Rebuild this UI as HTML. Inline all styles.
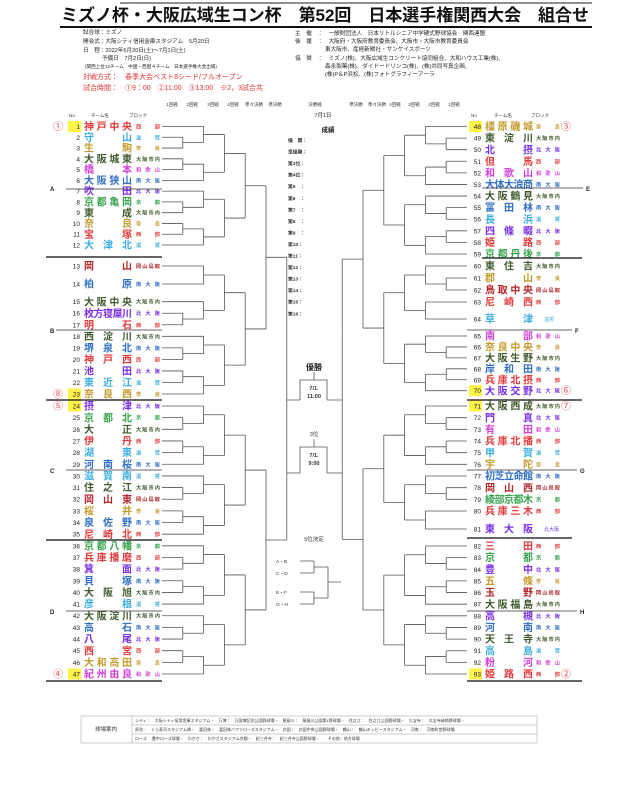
<!DOCTYPE html>
<html><head><meta charset="utf-8">
<style>
html,body{margin:0;padding:0;background:#fff;}
body{width:640px;height:788px;overflow:hidden;font-family:"Liberation Sans","Noto Sans CJK JP",sans-serif;}
svg text{font-family:"Liberation Sans","Noto Sans CJK JP",sans-serif;}
</style></head>
<body>
<svg id="s" width="640" height="788" viewBox="0 0 640 788" xmlns="http://www.w3.org/2000/svg">
<line x1="120" y1="3" x2="592" y2="3" stroke="#222" stroke-width="1"/>
<text x="325" y="21" font-size="17" font-weight="bold" text-anchor="middle" textLength="528" lengthAdjust="spacing" fill="#111">ミズノ杯・大阪広域生コン杯　第52回　日本選手権関西大会　組合せ</text>
<line x1="60" y1="27" x2="592" y2="27" stroke="#111" stroke-width="2"/>
<g font-size="5.6" fill="#222">
<text x="83" y="34">試合球：ミズノ</text>
<text x="83" y="43">開会式：大阪シティ信用金庫スタジアム　5月20日</text>
<text x="83" y="52">日　程：2022年5月20日(土)～7月1日(土)</text>
<text x="102" y="60">予備日　7月2日(日)</text>
<text x="85" y="68" font-size="4.6">(関西上位12チーム　中国・西国４チーム　日本選手権大会出場)</text>
<text x="83" y="79" font-size="7" fill="#e03030">対戦方式：　春季大会ベスト8シード/フルオープン</text>
<text x="83" y="90" font-size="7" fill="#e03030">試合時間：　①9：00　②11:00　③13:00　※2，3試合共</text>
<text x="295" y="35">主　催　：　一般財団法人　日本リトルシニア中学硬式野球協会　関西連盟</text>
<text x="295" y="43">後　援　：　大阪府・大阪府教育委員会、大阪市・大阪市教育委員会</text>
<text x="325" y="51">東大阪市、産経新聞社・サンケイスポーツ</text>
<text x="295" y="60">協　賛　：　ミズノ(株)、大阪広域生コンクリート協同組合、大和ハウス工業(株)、</text>
<text x="325" y="68">森永製菓(株)、ダイドードリンコ(株)、(株)共同写真企画、</text>
<text x="325" y="76">(株)P＆P浜松、(株)フォトグラフィーアーラ</text>
</g>
<g font-size="4.5" fill="#333" text-anchor="middle">
<text x="172" y="106">1回戦</text><text x="192" y="106">2回戦</text><text x="213" y="106">3回戦</text><text x="233" y="106">4回戦</text><text x="254" y="106">準々決勝</text><text x="275" y="106">準決勝</text>
<text x="315" y="106">決勝戦</text>
<text x="356" y="106">準決勝</text><text x="377" y="106">準々決勝</text><text x="395" y="106">4回戦</text><text x="414" y="106">3回戦</text><text x="434" y="106">2回戦</text><text x="454" y="106">1回戦</text>
<text x="72" y="117">No</text><text x="100" y="117">チーム名</text><text x="138" y="117">ブロック</text>
<text x="474" y="117">No</text><text x="503" y="117">チーム名</text><text x="540" y="117">ブロック</text>
</g>
<text x="323" y="117" font-size="5.5" text-anchor="middle" fill="#222">7月1日</text>
<text x="328" y="132" font-size="6.5" font-weight="bold" text-anchor="middle" fill="#222">成績</text>
<g id="g"></g>
<!-- center -->
<g stroke="#555" stroke-width="0.8" fill="none">
<path d="M314 372 V380 M300 400 V380 H327 V400"/>
<path d="M314 439 V447 M300 473 V447 H327 V473"/>
<path d="M300 561 H314 M300 573 H314 M314 561 V573 M314 567 H328 M300 592 H314 M300 604 H314 M314 592 V604 M314 598 H328 M328 567 V598 M328 582 H341"/>
</g>
<text x="314" y="370" font-size="8" font-weight="bold" text-anchor="middle" fill="#222">優勝</text>
<text x="314" y="390" font-size="5.5" font-weight="bold" text-anchor="middle" fill="#333">7/1.</text>
<text x="314" y="398" font-size="5.5" font-weight="bold" text-anchor="middle" fill="#333">11:00</text>
<text x="314" y="436" font-size="5.5" text-anchor="middle" fill="#333">3位</text>
<text x="314" y="457" font-size="5.5" font-weight="bold" text-anchor="middle" fill="#333">7/1.</text>
<text x="314" y="465" font-size="5.5" font-weight="bold" text-anchor="middle" fill="#333">9:00</text>
<text x="314" y="541" font-size="5.5" text-anchor="middle" fill="#333">5位決定</text>
<g font-size="4.8" fill="#333">
<text x="276" y="563">A・B</text><text x="276" y="575">C・D</text><text x="276" y="594">E・F</text><text x="276" y="606">G・H</text>
</g>
<!-- footer -->
<g stroke="#999" stroke-width="0.5" fill="none">
<rect x="81" y="716" width="456" height="27"/>
<line x1="132" y1="716" x2="132" y2="743"/>
<line x1="132" y1="725" x2="537" y2="725"/>
<line x1="132" y1="734" x2="537" y2="734"/>
</g>
<text x="106" y="731" font-size="5.5" text-anchor="middle" fill="#333">球場案内</text>
<g font-size="4" fill="#333">
<text x="135" y="722">シティ：　大阪シティ信用金庫スタジアム・　万博：　万国博記念公園野球場・　猿島川：　猿島川公園第1野球場・　住之江：　住之江公園野球場・　久宝寺：　久宝寺緑地野球場・</text>
<text x="135" y="731">原池：　くら寿司スタジアム堺・　富田林：　富田林バファローズスタジアム・　花園：　花園中央公園野球場・　鶴山：　鶴山キッピースタジアム・　河南：　河南町営野球場</text>
<text x="135" y="740">ローズ　:豊中ローズ球場・　わかさ：　わかさスタジアム京都・　紀三井寺：　紀三井寺公園野球場・　　その他：地方球場</text>
</g>
</svg>
<script>
(function(){
var C={"西部":"#e23a3a","滋賀":"#3aaee2","奈良":"#c49a2a","大阪市内":"#3f5a2c","和歌山":"#d23ed6","南大阪":"#2f6fc4","北大阪":"#7a2ee6","京都":"#36a34e","岡山鳥取":"#b3262a"};
var T=[
[1,"神戸中央","西部"],[2,"守山","滋賀"],[3,"生駒","奈良"],[4,"大阪城東","大阪市内"],[5,"橋本","和歌山"],[6,"大阪狭山","南大阪"],
[7,"吹田","北大阪"],[8,"京都亀岡","京都"],[9,"東成","大阪市内"],[10,"奈良","奈良"],[11,"宝塚","西部"],[12,"大津北","滋賀"],
[13,"岡山","岡山鳥取"],[14,"柏原","南大阪"],[15,"大阪中央","大阪市内"],[16,"枚方寝屋川","北大阪"],[17,"明石","西部"],
[18,"西淀川","大阪市内"],[19,"堺泉北","南大阪"],[20,"神戸西","西部"],[21,"池田","北大阪"],[22,"東近江","滋賀"],[23,"奈良西","奈良"],
[24,"摂津","北大阪"],[25,"京都北","京都"],[26,"大正","大阪市内"],[27,"伊丹","西部"],[28,"湖東","滋賀"],[29,"河南桜","南大阪"],
[30,"滋賀南","滋賀"],[31,"住之江","大阪市内"],[32,"岡山東","岡山鳥取"],[33,"桜井","奈良"],[34,"泉佐野","南大阪"],[35,"尼崎北","西部"],
[36,"京都八幡","京都"],[37,"兵庫播磨","西部"],[38,"箕面","北大阪"],[39,"貝塚","南大阪"],[40,"大阪旭","大阪市内"],[41,"彦根","滋賀"],
[42,"大阪淀川","大阪市内"],[43,"高石","南大阪"],[44,"八尾","北大阪"],[45,"西宮","西部"],[46,"大和高田","奈良"],[47,"紀州由良","和歌山"],
[48,"橿原磯城","奈良"],[49,"東淀川","大阪市内"],[50,"北摂","北大阪"],[51,"但馬","西部"],[52,"和歌山","和歌山"],[53,"大体大浪商","南大阪"],
[54,"大阪鶴見","大阪市内"],[55,"富田林","南大阪"],[56,"長浜","滋賀"],[57,"四條畷","北大阪"],[58,"姫路","西部"],[59,"京都丹後","京都"],
[60,"東住吉","大阪市内"],[61,"郡山","奈良"],[62,"鳥取中央","岡山鳥取"],[63,"尼崎西","西部"],[64,"草津","滋賀"],
[65,"南部","和歌山"],[66,"奈良中央","奈良"],[67,"大阪生野","大阪市内"],[68,"岸和田","南大阪"],[69,"兵庫北摂","西部"],[70,"大阪交野","北大阪"],
[71,"大阪西成","大阪市内"],[72,"門真","北大阪"],[73,"有田","和歌山"],[74,"兵庫北播","西部"],[75,"甲賀","滋賀"],[76,"宇陀","奈良"],
[77,"初芝立命館","南大阪"],[78,"岡山西","岡山鳥取"],[79,"綾部京都木","京都"],[80,"兵庫三木","西部"],[81,"東大阪","北大阪"],
[82,"三田","西部"],[83,"京都","京都"],[84,"豊中","北大阪"],[85,"五條","奈良"],[86,"玉野","岡山鳥取"],[87,"大阪福島","大阪市内"],
[88,"高槻","北大阪"],[89,"河南","南大阪"],[90,"天王寺","大阪市内"],[91,"高島","滋賀"],[92,"粉河","和歌山"],[93,"姫路西","西部"]];
var Y={};
function seq(a,b,y0,y1){var n=b-a;for(var i=a;i<=b;i++)Y[i]=y0+(y1-y0)*(i-a)/n;}
seq(1,12,126.5,245);Y[13]=266;Y[14]=284;seq(15,23,301.7,394);seq(24,47,406,674);
seq(48,59,126.5,254);seq(60,63,266,302);Y[64]=319;seq(65,81,336,511);Y[81]=529;
seq(71,80,406,511);seq(82,93,546,674);
var hl={1:1,23:1,24:1,47:1,48:1,70:1,71:1,93:1};
var circ={1:"①",23:"⑧",24:"⑤",47:"④",48:"③",70:"⑥",71:"⑦",93:"②"};
var s="";
T.forEach(function(t){
 var n=t[0],y=Y[n],col=C[t[2]],L=n<=47;
 var nx=L?80:481, tx=L?84:485, px=L?136:536;
 if(hl[n]) s+='<rect x="'+(nx-12)+'" y="'+(y-5.5)+'" width="13" height="11" fill="#fff34a"/>';
 s+='<text x="'+nx+'" y="'+(y+2.5)+'" font-size="6.5" text-anchor="end" fill="#222">'+n+'</text>';
 var nm=t[1];
 s+='<text x="'+tx+'" y="'+(y+3.6)+'" font-size="10" font-weight="bold" fill="'+col+'"'+(nm.length>1?' textLength="48" lengthAdjust="spacing"':'')+'>'+nm+'</text>';
 var pf=t[2],pw=pf.length>=3?24:24;
 if(n==64||n==81) s+='<text x="'+(px+8)+'" y="'+(y+2)+'" font-size="5" fill="'+col+'">'+(n==64?"滋賀":"北大阪")+'</text>';
 else s+='<text x="'+px+'" y="'+(y+2)+'" font-size="5.2" font-weight="bold" fill="'+col+'" textLength="'+pw+'" lengthAdjust="spacing">'+(pf.length==2?pf.charAt(0)+" "+pf.charAt(1):pf)+'</text>';
 if(circ[n]) s+='<text x="'+(L?58:566)+'" y="'+(y+3.5)+'" font-size="10" text-anchor="middle" fill="#e25050">'+circ[n]+'</text>';
});
// bracket
var lines="";
function X(L,k){return L?162+k*20.8:467-k*20.8;}
function node(t,L){
 if(typeof t=="number") return {y:Y[t],k:0,x:X(L,0)};
 var lv=null,ch=t;
 if(t.l!==undefined){lv=t.l;ch=t.c;}
 var a=node(ch[0],L),b=node(ch[1],L);
 var k=lv!==null?lv:Math.max(a.k,b.k)+1;
 var x=X(L,k);
 lines+='M'+a.x+' '+a.y+' H'+x+' M'+b.x+' '+b.y+' H'+x+' M'+x+' '+a.y+' V'+b.y+' ';
 return {y:(a.y+b.y)/2,k:k,x:x};
}
function six(a){return [[a,[a+1,a+2]],[[a+3,a+4],a+5]];}
var A=[six(1),six(7)];
var B=[[{l:2,c:[13,14]},[15,[16,17]]],six(18)];
var Cc=[six(24),six(30)];
var D=[six(36),six(42)];
var lt=node([[A,B],[Cc,D]],true);
var E=[six(48),six(54)];
var F=[[[60,[61,62]],{l:2,c:[63,64]}],six(65)];
var G=[six(71),[[77,[78,79]],{l:2,c:[80,81]}]];
var H=[six(82),six(88)];
var rt=node([[E,F],[G,H]],false);
lines+='M'+lt.x+' 400 H300 M'+rt.x+' 400 H327 ';
lines+='M'+lt.x+' 473 H300 M'+rt.x+' 473 H327 ';
s+='<path d="'+lines+'" stroke="#555" stroke-width="0.8" fill="none"/>';
// block lines
var bl=[[66,189,162,0.8],[46,257,162,1.5],[56,330,162,0.8],[46,400,162,1.5],[66,470,162,0.8],[46,540,162,1.5],[66,611,162,0.8],[46,681,162,1.5],
[482,188,583,0.8],[482,258,582,1.5],[467,330,572,0.8],[467,400,582,1.5],[467,470,577,0.8],[467,538,572,1.5],[467,611,577,0.8],[467,681,582,1.5]];
bl.forEach(function(b){s+='<line x1="'+b[0]+'" y1="'+b[1]+'" x2="'+b[2]+'" y2="'+b[1]+'" stroke="#333" stroke-width="'+b[3]+'"/>';});
var lab=[["A",50,191],["B",50,333],["C",50,473],["D",50,614],["E",586,191],["F",575,333],["G",580,473],["H",580,614]];
lab.forEach(function(l){s+='<text x="'+l[1]+'" y="'+l[2]+'" font-size="6" font-weight="bold" fill="#222">'+l[0]+'</text>';});
// ranking
var rk=["優　勝：","準優勝：","第3位：","第4位：","第5　：","第6　：","第7　：","第8　：","第9　：","第10：","第11：","第12：","第13：","第14：","第15：","第16："];
rk.forEach(function(r,i){s+='<text x="288" y="'+(142+i*11.55)+'" font-size="4.8" font-weight="bold" fill="#333">'+r+'</text>';});
document.getElementById("g").innerHTML=s;
})();
</script>
</body></html>
